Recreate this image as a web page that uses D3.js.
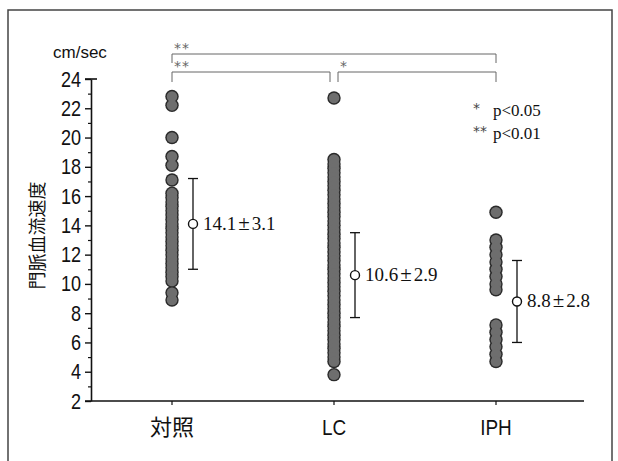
<!DOCTYPE html>
<html>
<head>
<meta charset="utf-8">
<script src="https://cdn.jsdelivr.net/npm/d3@7"></script>
<style>
  body { margin: 0; background: #fff; }
  svg { display: block; }
</style>
</head>
<body>
<div id="chart"></div>
<script>
// groups and values (cm/sec)
var groups = ["対照", "LC", "IPH"];

var ctrlValues = [22.8, 22.2, 20.0, 18.7, 18.1, 17.1, 16.2, 15.9, 15.6, 15.3, 15.0, 14.7, 14.4,
  14.1, 13.8, 13.5, 13.2, 12.9, 12.6, 12.3, 12.0, 11.7, 11.4, 11.1, 10.8, 10.5, 10.2, 9.4, 8.9];

var lcValues = [22.7, 18.5, 18.2, 17.9, 17.6, 17.3, 17.0, 16.7, 16.4, 16.1, 15.8, 15.5, 15.2,
  14.9, 14.6, 14.3, 14.0, 13.7, 13.4, 13.1, 12.8, 12.5, 12.2, 11.9, 11.6, 11.3, 11.0, 10.7,
  10.4, 10.1, 9.8, 9.5, 9.2, 8.9, 8.6, 8.3, 8.0, 7.7, 7.4, 7.1, 6.8, 6.5, 6.2, 5.9, 5.6,
  5.3, 5.0, 4.7, 3.8];

var iphValues = [14.9, 13.0, 12.5, 12.0, 11.5, 11.0, 10.5, 10.0, 9.6,
  7.2, 6.7, 6.2, 5.7, 5.2, 4.7];

var means = [14.1, 10.6, 8.8];
var sds = [3.1, 2.9, 2.8];

var yTicks = [2, 4, 6, 8, 10, 12, 14, 16, 18, 20, 22, 24];

// significance brackets
var sigFrom = ["対照", "対照", "LC"];
var sigTo = ["IPH", "LC", "IPH"];
var sigMark = ["**", "**", "*"];
var sigRow = [0, 1, 1];

var legendMarks = ["*", "**"];
var legendTexts = ["p<0.05", "p<0.01"];

var width = 618, height = 461;
var serif = "'Liberation Serif', 'Times New Roman', serif";
var sans = "'Liberation Sans', Arial, 'Noto Sans CJK JP', sans-serif";

// squeeze latin labels a bit, the original uses a condensed face
function condense(sel, k) {
  sel.each(function() {
    if (/^[\x00-\x7F]+$/.test(this.textContent)) {
      var len = this.getComputedTextLength();
      d3.select(this).attr("textLength", len * k).attr("lengthAdjust", "spacingAndGlyphs");
    }
  });
}

var svg = d3.select("#chart")
  .append("svg")
    .attr("width", width)
    .attr("height", height);

// outer frame
svg.append("rect")
  .attr("x", 8).attr("y", 10)
  .attr("width", 604).attr("height", 470)
  .attr("fill", "none")
  .attr("stroke", "#444")
  .attr("stroke-width", 1.5);

var x = d3.scaleBand()
  .domain(groups)
  .range([91, 577])
  .padding(0);
var cx = function(g) { return x(g) + x.bandwidth() / 2; };

var y = d3.scaleLinear()
  .domain([2, 24])
  .range([401, 79]);

var axisX = x.range()[0];

// Y axis: major ticks with labels, minor ticks in between
var yAxis = svg.append("g")
  .attr("transform", "translate(" + axisX + ",0)")
  .call(d3.axisLeft(y).tickValues(yTicks).tickSize(6).tickPadding(4).tickSizeOuter(0));
yAxis.select(".domain").attr("stroke", "#111").attr("stroke-width", 1.6);
yAxis.selectAll(".tick line").attr("stroke", "#111").attr("stroke-width", 1.4);
yAxis.selectAll(".tick text")
  .style("font-family", sans)
  .style("font-size", "22px")
  .attr("fill", "#111")
  .call(condense, 0.82);

svg.append("g")
  .attr("transform", "translate(" + axisX + ",0)")
  .call(d3.axisLeft(y).tickValues(d3.range(3, 24, 2)).tickSize(3).tickFormat(""))
  .call(function(g) { g.select(".domain").remove(); })
  .selectAll(".tick line").attr("stroke", "#111").attr("stroke-width", 1.2);

// cap on top of the y axis
svg.append("line")
  .attr("x1", axisX - 6).attr("x2", axisX + 6)
  .attr("y1", y(24)).attr("y2", y(24))
  .attr("stroke", "#111").attr("stroke-width", 1.6);

// X axis
var xAxis = svg.append("g")
  .attr("transform", "translate(0," + y(2) + ")")
  .call(d3.axisBottom(x).tickSize(4).tickPadding(14).tickSizeOuter(0));
xAxis.select(".domain")
  .attr("d", "M" + (axisX - 6) + ",0H584")
  .attr("stroke", "#111").attr("stroke-width", 1.6);
xAxis.selectAll(".tick line").attr("stroke", "#111").attr("stroke-width", 1.2);
xAxis.selectAll(".tick text")
  .style("font-family", sans)
  .style("font-size", "22px")
  .attr("fill", "#111")
  .call(condense, 0.86);

// axis titles
svg.append("text")
  .attr("x", 53).attr("y", 58)
  .style("font-family", "'Liberation Sans', Arial, sans-serif")
  .style("font-size", "17px")
  .attr("fill", "#111")
  .text("cm/sec");

svg.append("text")
  .attr("transform", "translate(44," + y(13.3) + ") rotate(-90)")
  .attr("text-anchor", "middle")
  .style("font-family", "'Noto Sans CJK JP', sans-serif")
  .style("font-size", "18px")
  .attr("fill", "#111")
  .text("門脈血流速度");

// data points: outline layer first, then fill layer so touching dots merge
var allValues = [ctrlValues, lcValues, iphValues];
groups.forEach(function(g, i) {
  var col = svg.append("g");
  col.selectAll("circle.edge")
    .data(allValues[i])
    .enter()
    .append("circle")
      .attr("class", "edge")
      .attr("cx", cx(g))
      .attr("cy", function(d) { return y(d); })
      .attr("r", 6.7)
      .attr("fill", "#2a2a2a");
  col.selectAll("circle.body")
    .data(allValues[i])
    .enter()
    .append("circle")
      .attr("class", "body")
      .attr("cx", cx(g))
      .attr("cy", function(d) { return y(d); })
      .attr("r", 5.3)
      .attr("fill", "#6e6e6e");
});

// mean ± SD
var meanOffset = 21;
groups.forEach(function(g, i) {
  var mx = cx(g) + meanOffset;
  var gg = svg.append("g");
  gg.append("line")
    .attr("x1", mx).attr("x2", mx)
    .attr("y1", y(means[i] + sds[i])).attr("y2", y(means[i] - sds[i]))
    .attr("stroke", "#111").attr("stroke-width", 1.3);
  [means[i] + sds[i], means[i] - sds[i]].forEach(function(v) {
    gg.append("line")
      .attr("x1", mx - 5).attr("x2", mx + 5)
      .attr("y1", y(v)).attr("y2", y(v))
      .attr("stroke", "#111").attr("stroke-width", 1.3);
  });
  gg.append("circle")
    .attr("cx", mx).attr("cy", y(means[i]))
    .attr("r", 4.5)
    .attr("fill", "#fff")
    .attr("stroke", "#111")
    .attr("stroke-width", 1.4);
  var t = gg.append("text")
    .attr("x", mx + 10).attr("y", y(means[i]) + 6)
    .style("font-family", serif)
    .style("font-size", "19px")
    .attr("fill", "#111");
  t.append("tspan").text(d3.format(".1f")(means[i]));
  t.append("tspan").attr("dx", 2).style("font-size", "21px").text("±");
  t.append("tspan").attr("dx", 2).text(d3.format(".1f")(sds[i]));
});

// significance brackets
var rowY = [54, 72];
var rowDrop = [9, 10];
sigFrom.forEach(function(f, i) {
  var x1 = cx(f), x2 = cx(sigTo[i]);
  if (sigRow[i] === 1) {
    if (sigTo[i] === "LC") x2 -= 4;
    if (f === "LC") x1 += 4;
  }
  var ly = rowY[sigRow[i]], dy = rowDrop[sigRow[i]];
  svg.append("path")
    .attr("d", "M" + x1 + "," + (ly + dy) + "V" + ly + "H" + x2 + "V" + (ly + dy))
    .attr("fill", "none")
    .attr("stroke", "#666")
    .attr("stroke-width", 1);
  svg.append("text")
    .attr("x", x1 + 2).attr("y", ly - 1)
    .style("font-family", "'DejaVu Sans', sans-serif")
    .style("font-size", "14px")
    .style("letter-spacing", "1px")
    .attr("fill", "#666")
    .text(sigMark[i]);
});

// legend for significance marks
legendMarks.forEach(function(m, i) {
  svg.append("text")
    .attr("x", 473).attr("y", 113 + i * 23)
    .style("font-family", "'DejaVu Sans', sans-serif")
    .style("font-size", "14px")
    .attr("fill", "#444")
    .text(m);
  svg.append("text")
    .attr("x", 493).attr("y", 116 + i * 23)
    .style("font-family", serif)
    .style("font-size", "17px")
    .attr("fill", "#111")
    .text(legendTexts[i]);
});
</script>
</body>
</html>
